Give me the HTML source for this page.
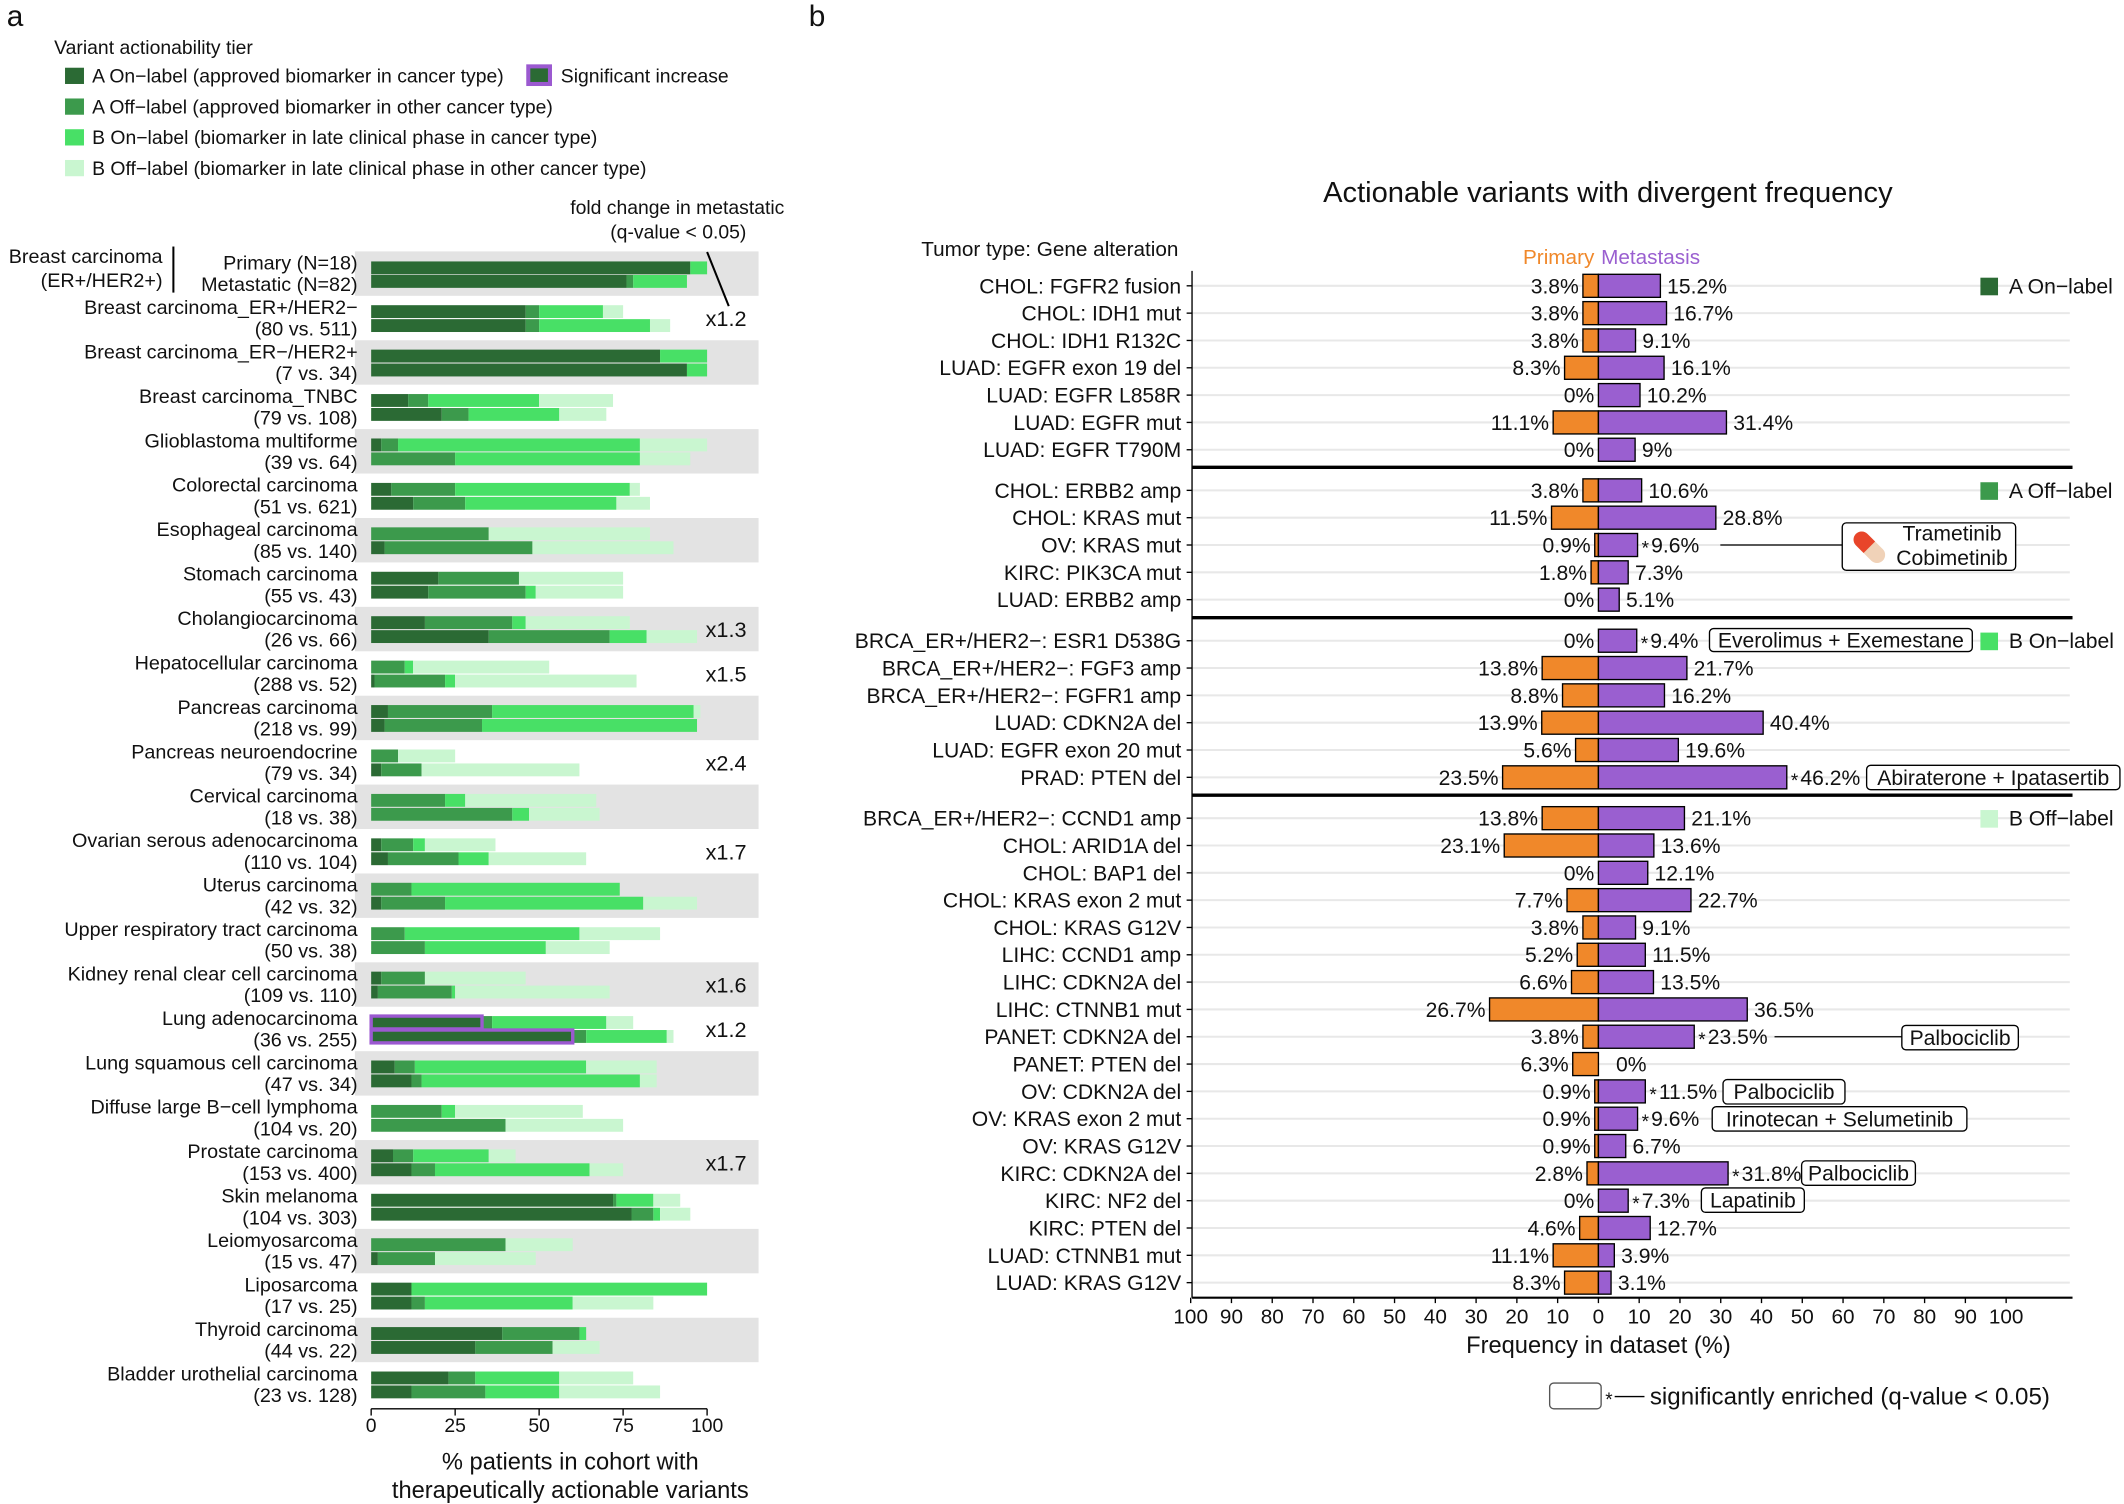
<!DOCTYPE html>
<html><head><meta charset="utf-8"><style>
html,body{margin:0;padding:0;background:#fff}
svg{display:block}
text{font-family:"Liberation Sans",sans-serif;fill:#111}
</style></head><body>
<svg id="s" width="2124" height="1504" viewBox="0 0 1568 1110.3" xmlns="http://www.w3.org/2000/svg"></svg>
<script>
var o=[];
function t(x,y,s,sz,anc,fill,extra){o.push('<text x="'+x+'" y="'+y+'" font-size="'+(sz||14)+'" text-anchor="'+(anc||'start')+'"'+(fill?' style="fill:'+fill+'"':'')+(extra||'')+'>'+s+'</text>');}
function r(x,y,w,h,f,ex){o.push('<rect x="'+x+'" y="'+y+'" width="'+w+'" height="'+h+'" fill="'+f+'" '+(ex||'')+'/>');}
function l(x1,y1,x2,y2,c,w){o.push('<line x1="'+x1+'" y1="'+y1+'" x2="'+x2+'" y2="'+y2+'" stroke="'+(c||'#000')+'" stroke-width="'+(w||1)+'"/>');}
var C=['#2b6a34','#3c9a4c','#48e066','#c9f6d0'];
t(5,19,'a',22);t(597,19,'b',22);
t(40,40,'Variant actionability tier',14.3);
var lg=['A On\u2212label (approved biomarker in cancer type)','A Off\u2212label (approved biomarker in other cancer type)','B On\u2212label (biomarker in late clinical phase in cancer type)','B Off\u2212label (biomarker in late clinical phase in other cancer type)'];
for(var i=0;i<4;i++){r(48,50+i*22.7,14,12,C[i]);t(68,61+i*22.7,lg[i],14.3);}
r(390,49,16,13,C[0],'stroke="#9b59d0" stroke-width="3"');t(414,61,'Significant increase',14.3);
var G=[
['Breast carcinoma_ER+/HER2\u2212','(80 vs. 511)',[46,50,69,75],[46,50,83,89]],
['Breast carcinoma_ER\u2212/HER2+','(7 vs. 34)',[86,86,100,100],[94,94,100,100]],
['Breast carcinoma_TNBC','(79 vs. 108)',[11,17,50,72],[21,29,56,70]],
['Glioblastoma multiforme','(39 vs. 64)',[3,8,80,100],[0,25,80,95]],
['Colorectal carcinoma','(51 vs. 621)',[6,25,77,80],[12.5,28,73,83]],
['Esophageal carcinoma','(85 vs. 140)',[0,35,35,83],[4,48,48,90]],
['Stomach carcinoma','(55 vs. 43)',[20,44,44,75],[17,46,49,75]],
['Cholangiocarcinoma','(26 vs. 66)',[16,42,46,77],[35,71,82,97]],
['Hepatocellular carcinoma','(288 vs. 52)',[0,10,12.5,53],[1,22,25,79]],
['Pancreas carcinoma','(218 vs. 99)',[5,36,96,98],[4,33,97,97]],
['Pancreas neuroendocrine','(79 vs. 34)',[0,8,8,25],[3,15,15,62]],
['Cervical carcinoma','(18 vs. 38)',[0,22,28,67],[0,42,47,68]],
['Ovarian serous adenocarcinoma','(110 vs. 104)',[3,12.5,16,37],[5,26,35,64]],
['Uterus carcinoma','(42 vs. 32)',[0,12,74,74],[3,22,81,97]],
['Upper respiratory tract carcinoma','(50 vs. 38)',[0,10,62,86],[0,16,52,71]],
['Kidney renal clear cell carcinoma','(109 vs. 110)',[3,16,16,46],[2,24,25,71]],
['Lung adenocarcinoma','(36 vs. 255)',[33,36,70,78],[60,64,88,90]],
['Lung squamous cell carcinoma','(47 vs. 34)',[7,13,64,85],[12,15,80,85]],
['Diffuse large B\u2212cell lymphoma','(104 vs. 20)',[0,21,25,63],[0,40,40,75]],
['Prostate carcinoma','(153 vs. 400)',[6.5,12.5,35,43],[12,19,65,75]],
['Skin melanoma','(104 vs. 303)',[72,73,84,92],[77.5,84,86,95]],
['Leiomyosarcoma','(15 vs. 47)',[0,40,40,60],[2,19,19,49]],
['Liposarcoma','(17 vs. 25)',[12,12,100,100],[12,16,60,84]],
['Thyroid carcinoma','(44 vs. 22)',[39,62,64,64],[31,54,54,68]],
['Bladder urothelial carcinoma','(23 vs. 128)',[23,31,56,78],[12,34,56,86]]];
var X0=274,S=2.48,SP=32.8;
function bars(v,y){var p=0;for(var k=0;k<4;k++){var w=v[k]-p;if(w>0)r(X0+p*S,y,w*S,9.5,C[k]);if(v[k]>p)p=v[k];}}
for(var i=0;i<26;i++){var cy=202+i*SP;if(i%2==0)r(262,cy-16.4,298,32.8,'#e3e3e3');}
bars([95,95,100,100],193);bars([76,78,94,94],203);
t(120,194,'Breast carcinoma',14.6,'end');t(120,212,'(ER+/HER2+)',14.6,'end');l(128,182,128,216,'#000',1.5);
t(264,199,'Primary (N=18)',14.6,'end');t(264,215,'Metastatic (N=82)',14.6,'end');
for(var i=0;i<25;i++){var cy=202+(i+1)*SP;t(264,cy-3,G[i][0],14.6,'end');t(264,cy+13,G[i][1],14.6,'end');bars(G[i][2],cy-9.5);bars(G[i][3],cy+0.8);}
var la=202+17*SP;r(274,la-9.5,33*S,9.5,'none','stroke="#9b59d0" stroke-width="2.5"');r(274,la+0.8,60*S,9.5,'none','stroke="#9b59d0" stroke-width="2.5"');
var fc=[[1,'x1.2'],[8,'x1.3'],[9,'x1.5'],[11,'x2.4'],[13,'x1.7'],[16,'x1.6'],[17,'x1.2'],[20,'x1.7']];
fc.forEach(function(f){t(536,202+f[0]*SP+6,f[1],16,'middle');});
t(500,158,'fold change in metastatic',14.3,'middle');t(551,176,'(q-value &lt; 0.05)',14.3,'end');
l(522,186,538,226,'#000',1.5);
l(274,1040,522,1040,'#000',1);
[0,25,50,75,100].forEach(function(v){var x=X0+v*S;l(x,1040,x,1045);t(x,1057,v,14.3,'middle');});
t(421,1085,'% patients in cohort with',17.5,'middle');t(421,1106,'therapeutically actionable variants',17.5,'middle');
t(1187,149,'Actionable variants with divergent frequency',21.5,'middle');
t(775,189,'Tumor type: Gene alteration',15.3,'middle');
t(1177,195,'Primary',15.3,'end','#f0882a');t(1182,195,'Metastasis',15.3,'start','#9a5fd0');
var B0=1180,BS=3.01,RS=20.17,FS=15.6;
var secs=[[211,[
['CHOL: FGFR2 fusion',3.8,15.2],['CHOL: IDH1 mut',3.8,16.7],['CHOL: IDH1 R132C',3.8,9.1],['LUAD: EGFR exon 19 del',8.3,16.1],['LUAD: EGFR L858R',0,10.2],['LUAD: EGFR mut',11.1,31.4],['LUAD: EGFR T790M',0,9]]],
[362,[['CHOL: ERBB2 amp',3.8,10.6],['CHOL: KRAS mut',11.5,28.8],['OV: KRAS mut',0.9,9.6,1],['KIRC: PIK3CA mut',1.8,7.3],['LUAD: ERBB2 amp',0,5.1]]],
[473,[['BRCA_ER+/HER2\u2212: ESR1 D538G',0,9.4,1],['BRCA_ER+/HER2\u2212: FGF3 amp',13.8,21.7],['BRCA_ER+/HER2\u2212: FGFR1 amp',8.8,16.2],['LUAD: CDKN2A del',13.9,40.4],['LUAD: EGFR exon 20 mut',5.6,19.6],['PRAD: PTEN del',23.5,46.2,1]]],
[604,[['BRCA_ER+/HER2\u2212: CCND1 amp',13.8,21.1],['CHOL: ARID1A del',23.1,13.6],['CHOL: BAP1 del',0,12.1],['CHOL: KRAS exon 2 mut',7.7,22.7],['CHOL: KRAS G12V',3.8,9.1],['LIHC: CCND1 amp',5.2,11.5],['LIHC: CDKN2A del',6.6,13.5],['LIHC: CTNNB1 mut',26.7,36.5],['PANET: CDKN2A del',3.8,23.5,1],['PANET: PTEN del',6.3,0],['OV: CDKN2A del',0.9,11.5,1],['OV: KRAS exon 2 mut',0.9,9.6,1],['OV: KRAS G12V',0.9,6.7],['KIRC: CDKN2A del',2.8,31.8,1],['KIRC: NF2 del',0,7.3,1],['KIRC: PTEN del',4.6,12.7],['LUAD: CTNNB1 mut',11.1,3.9],['LUAD: KRAS G12V',8.3,3.1]]]];
var leg=[['A On\u2212label',C[0]],['A Off\u2212label',C[1]],['B On\u2212label',C[2]],['B Off\u2212label',C[3]]];
secs.forEach(function(s,si){
 s[1].forEach(function(d,j){var y=s[0]+j*RS;l(880,y,1528,y,'#e8e8e8',1.5);});
 s[1].forEach(function(d,j){var y=s[0]+j*RS;
  t(872,y+5.5,d[0],FS,'end');l(876,y,880,y,'#000',1);
  if(d[1]>0)r(B0-d[1]*BS,y-8.5,d[1]*BS,17,'#f0882a','stroke="#000" stroke-width="1"');
  if(d[2]>0)r(B0,y-8.5,d[2]*BS,17,'#9a5fd0','stroke="#000" stroke-width="1"');
  t(B0-d[1]*BS-3,y+5.5,d[1]+'%',FS,'end');
  var mx=B0+d[2]*BS+3;
  if(d[3]){t(mx,y+7,'*',14);t(mx+7,y+5.5,d[2]+'%',FS);}else t(mx+(d[2]?2:10),y+5.5,d[2]+'%',FS);
 });
 r(1462,s[0]-6,13,13,leg[si][1]);t(1483,s[0]+5.5,leg[si][0],FS);
});
[345,456,587].forEach(function(y){l(880,y,1530,y,'#000',2.5);});
l(880,200,880,958,'#000',1);l(880,958,1530,958,'#000',1.5);
for(var v=-100;v<=100;v+=10){var x=B0+v*BS;l(x,958,x,962);t(x,977,Math.abs(v),15.3,'middle');}
t(1180,999,'Frequency in dataset (%)',17.5,'middle');
function box(x,y,w,h,s,sz){r(x,y,w,h,'#fff','rx="3" stroke="#000" stroke-width="1"');t(x+w/2,y+h/2+5.5,s,sz||FS,'middle');}
var yk=362+2*RS;l(1270,yk,1360,yk,'#000',1);
r(1360,386,128,35,'#fff','rx="3" stroke="#000" stroke-width="1"');
t(1441,399,'Trametinib',FS,'middle');t(1441,417,'Cobimetinib',FS,'middle');
o.push('<g transform="translate(1380,404) rotate(-45)"><rect x="-6" y="-14" width="12" height="28" rx="6" fill="#f0d2b8"/><path d="M-6,0 h12 v-8 a6,6 0 0 0 -12,0z" fill="#e8452a"/></g>');
box(1262,464,194,17,'Everolimus + Exemestane');
box(1378,565,187,18,'Abiraterone + Ipatasertib');
var yp=604+8*RS;l(1310,yp,1404,yp,'#000',1);box(1404,757,86,18,'Palbociclib');
box(1272,797,90,18,'Palbociclib');
box(1264,817,188,18,'Irinotecan + Selumetinib');
box(1330,857,84,18,'Palbociclib');
box(1256,877,76,18,'Lapatinib');
r(1144,1021,38,19,'#fff','rx="3" stroke="#555" stroke-width="1"');t(1185,1038,'*',14);l(1192,1031,1214,1031,'#000',1);
t(1218,1037,'significantly enriched (q-value &lt; 0.05)',17.8);
document.getElementById('s').innerHTML=o.join('');
</script>
</body></html>
